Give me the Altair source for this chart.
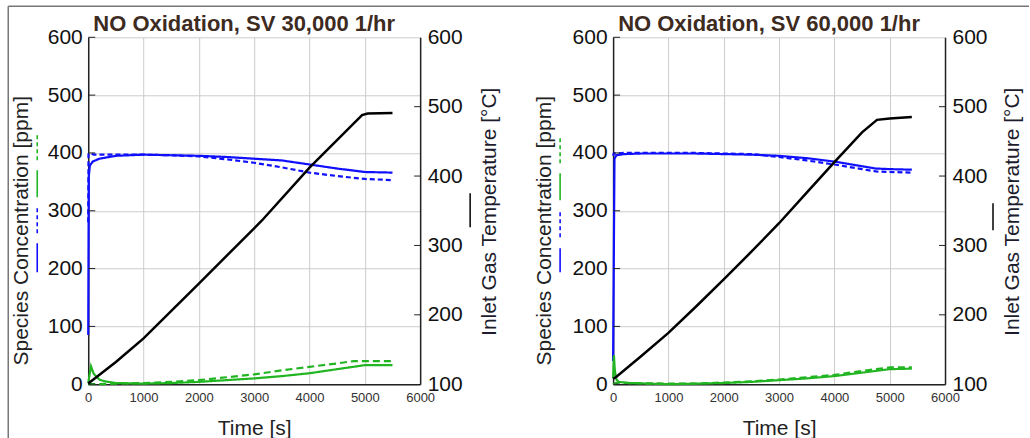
import altair as alt
import pandas as pd

FONT = "Liberation Sans"
W, H = 332, 347

X_TICKS = [0, 1000, 2000, 3000, 4000, 5000, 6000]
PPM_TICKS = [0, 100, 200, 300, 400, 500, 600]
TEMP_TICKS = [100, 200, 300, 400, 500, 600]
TEMP_INNER_TICKS = [200, 300, 400, 500]

TITLES = ["NO Oxidation, SV 30,000 1/hr", "NO Oxidation, SV 60,000 1/hr"]

# ---------------- SV 30,000 1/hr ----------------
t30_temp = [0, 500, 1000, 2000, 3140, 4000, 4950, 5050, 5500]
v30_temp = [101, 132, 166, 245, 336, 412, 488, 490, 491]

t30_blue_solid = [0, 10, 30, 80, 200, 500, 1000, 1500, 2000, 2500, 3000, 3500, 4000, 4500, 5000, 5500]
v30_blue_solid = [85, 360, 378, 385, 390, 395, 397, 396, 395, 393, 390, 387, 380, 373, 367, 366]

t30_blue_dash = [0, 5, 30, 100, 500, 1000, 1500, 2000, 2500, 3000, 3500, 4000, 4500, 5000, 5500]
v30_blue_dash = [280, 398, 400, 397, 397, 397, 396, 394, 389, 383, 375, 366, 360, 355, 353]

t30_green_solid = [0, 50, 100, 200, 300, 500, 1000, 1500, 2000, 2500, 3000, 3500, 4000, 4500, 5000, 5500]
v30_green_solid = [2, 31, 18, 8, 5, 2, 1, 2, 4, 7, 10, 14, 19, 26, 33, 33]

t30_green_dash = [0, 200, 500, 1000, 1500, 2000, 2500, 3000, 3500, 4000, 4500, 4800, 5500]
v30_green_dash = [0, 0, 1, 2, 4, 7, 12, 17, 24, 30, 36, 40, 40]

# ---------------- SV 60,000 1/hr ----------------
t60_temp = [0, 50, 500, 1000, 1500, 2000, 2500, 3000, 3500, 4000, 4500, 4770, 5000, 5400]
v60_temp = [108, 110, 140, 174, 212, 251, 291, 332, 376, 420, 463, 481, 483, 485]

t60_blue_solid = [0, 25, 60, 200, 500, 1000, 1500, 2000, 2500, 3000, 3500, 4000, 4500, 4750, 5000, 5400]
v60_blue_solid = [40, 390, 396, 398, 399, 399, 399, 398, 397, 395, 391, 385, 377, 373, 372, 371]

t60_blue_dash = [0, 15, 40, 200, 500, 1000, 1500, 2000, 2500, 3000, 3500, 4000, 4500, 4750, 5000, 5400]
v60_blue_dash = [395, 400, 399, 400, 400, 400, 400, 399, 398, 393, 387, 380, 372, 368, 367, 366]

t60_green_solid = [0, 15, 30, 60, 100, 300, 1000, 1500, 2000, 2500, 3000, 3500, 4000, 4500, 5000, 5400]
v60_green_solid = [10, 50, 25, 8, 4, 2, 0, 1, 2, 4, 7, 10, 14, 20, 26, 27]

t60_green_dash = [0, 50, 100, 300, 1000, 1500, 2000, 2500, 3000, 3500, 4000, 4500, 5000, 5400]
v60_green_dash = [0, 2, 3, 2, 1, 1, 3, 5, 8, 12, 16, 23, 29, 29]

SERIES = ["blue_solid", "blue_dash", "green_solid", "green_dash"]
COLORS = ["#1010ff", "#1010ff", "#22b522", "#22b522"]
DASHES = [[1, 0], [5, 3], [1, 0], [7, 4]]
BLUE, GREEN = "#1010ff", "#22b522"

ONE = pd.DataFrame({"k": [0]})


def conc_df(pairs):
    rows = []
    for name, ts, vs in pairs:
        for i, (t, v) in enumerate(zip(ts, vs)):
            rows.append({"t": t, "ppm": v, "s": name, "i": i})
    return pd.DataFrame(rows)


x_axis = alt.Axis(values=X_TICKS, format="d", title="Time [s]", grid=True, ticks=False, tickSize=0,
                  labelFontSize=13, labelColor="#333333", labelPadding=7, labelFlush=False,
                  labelOverlap=False, titleFontSize=21, titleFontWeight="normal",
                  titleColor="#222222", titleY=44, titleBaseline="middle",
                  domainColor="#222222", domainWidth=1.5)


def y_left_axis(title_x):
    return alt.Axis(orient="left", values=PPM_TICKS, title="Species Concentration [ppm]",
                    grid=True, ticks=False, tickSize=0, labelFontSize=21, labelColor="#111111",
                    labelPadding=6, labelFlush=False, labelOverlap=False,
                    titleFontSize=21, titleFontWeight="normal", titleColor="#222222",
                    titleAngle=-90, titleBaseline="middle", titleX=title_x, titleY=193,
                    domainColor="#222222", domainWidth=1.5)


def y_right_axis(title_x):
    return alt.Axis(orient="right", values=TEMP_TICKS, title="Inlet Gas Temperature [°C]",
                    grid=False, ticks=False, tickSize=0, labelFontSize=21, labelColor="#111111",
                    labelPadding=7, labelFlush=False, labelOverlap=False,
                    titleFontSize=21, titleFontWeight="normal", titleColor="#1c1c2c",
                    titleAngle=-90, titleBaseline="middle", titleX=title_x, titleY=174,
                    domainColor="#222222", domainWidth=1.5)


def legend_rule(x, y1, y2, color, dash, width=2):
    return alt.Chart(ONE).mark_rule(color=color, strokeWidth=width, strokeDash=dash).encode(
        x=alt.value(x), y=alt.value(y1), y2=alt.value(y2))


def panel(idx, temp_t, temp_v, pairs, leg_x, leg_ys, temp_leg, lt_x, rt_x, frame):
    xs = alt.Scale(domain=[0, 6000], nice=False)
    ys_left = alt.Scale(domain=[0, 600], nice=False)
    ys_right = alt.Scale(domain=[100, 600], nice=False)
    yl_axis = y_left_axis(lt_x)
    yr_axis = y_right_axis(rt_x)

    cdf = conc_df(pairs)
    lines = alt.Chart(cdf).mark_line(strokeWidth=2.2).encode(
        x=alt.X("t:Q", scale=xs, axis=x_axis),
        y=alt.Y("ppm:Q", scale=ys_left, axis=yl_axis),
        color=alt.Color("s:N", scale=alt.Scale(domain=SERIES, range=COLORS), legend=None),
        strokeDash=alt.StrokeDash("s:N", scale=alt.Scale(domain=SERIES, range=DASHES), legend=None),
        order=alt.Order("i:Q"),
    )
    lticks = alt.Chart(pd.DataFrame({"ppm": PPM_TICKS})).mark_rule(color="#222222", strokeWidth=1).encode(
        y=alt.Y("ppm:Q", scale=ys_left, axis=yl_axis), x=alt.value(0), x2=alt.value(7))

    layers_a = [lines, lticks]
    colors_leg = [GREEN, GREEN, BLUE, BLUE]
    dashes_leg = [[4, 3], [1, 0], [4, 3], [1, 0]]
    for (y1, y2), c, d in zip(leg_ys, colors_leg, dashes_leg):
        layers_a.append(legend_rule(leg_x, y1, y2, c, d, 1.6))
    if frame:
        layers_a.append(legend_rule(-80, -31, 401, "#777777", [1, 0], 1.5))
        layers_a.append(alt.Chart(ONE).mark_rule(color="#777777", strokeWidth=1.5).encode(
            x=alt.value(-80), x2=alt.value(941), y=alt.value(-31)))
    title = alt.Chart(pd.DataFrame({"title": [TITLES[idx]]})).mark_text(
        font=FONT, fontSize=22, fontWeight="bold", color="#3d2b1f",
        align="center", baseline="alphabetic").encode(
        text="title:N", x=alt.value(W / 2 - 10), y=alt.value(-6))
    layers_a.append(title)
    a = alt.layer(*layers_a)

    tdf = pd.DataFrame({"t": temp_t, "temp": temp_v})
    temp = alt.Chart(tdf).mark_line(color="black", strokeWidth=2.5).encode(
        x=alt.X("t:Q", scale=xs, axis=x_axis),
        y=alt.Y("temp:Q", scale=ys_right, axis=yr_axis),
    )
    rticks = alt.Chart(pd.DataFrame({"temp": TEMP_INNER_TICKS})).mark_rule(color="#222222", strokeWidth=1).encode(
        y=alt.Y("temp:Q", scale=ys_right, axis=yr_axis), x=alt.value(W - 6), x2=alt.value(W))
    tleg = legend_rule(temp_leg[0], temp_leg[1], temp_leg[2], "black", [1, 0], 1.5)
    b = alt.layer(temp, rticks, tleg)

    return alt.layer(a, b).resolve_scale(y="independent").properties(width=W, height=H)


p1 = panel(0, t30_temp, v30_temp,
           [("blue_solid", t30_blue_solid, v30_blue_solid),
            ("blue_dash", t30_blue_dash, v30_blue_dash),
            ("green_solid", t30_green_solid, v30_green_solid),
            ("green_dash", t30_green_dash, v30_green_dash)],
           -51, [(98, 123), (133, 160), (171, 198), (206, 235)], (382, 156, 190), -67, 69, True)

p2 = panel(1, t60_temp, v60_temp,
           [("blue_solid", t60_blue_solid, v60_blue_solid),
            ("blue_dash", t60_blue_dash, v60_blue_dash),
            ("green_solid", t60_green_solid, v60_green_solid),
            ("green_dash", t60_green_dash, v60_green_dash)],
           -53, [(101, 126), (136, 163), (175, 200), (211, 235)], (380, 166, 193), -69, 67.5, False)

chart = alt.hconcat(p1, p2, spacing=193, bounds="flush").properties(
    padding={"left": 7.25, "top": 5.25, "right": 0, "bottom": 0},
    background="white",
).configure_view(stroke=None).configure_axis(
    labelFont=FONT, titleFont=FONT, gridColor="#cccccc", gridWidth=1
)

chart.save("out.html", embed_options={"renderer": "svg", "actions": False})
